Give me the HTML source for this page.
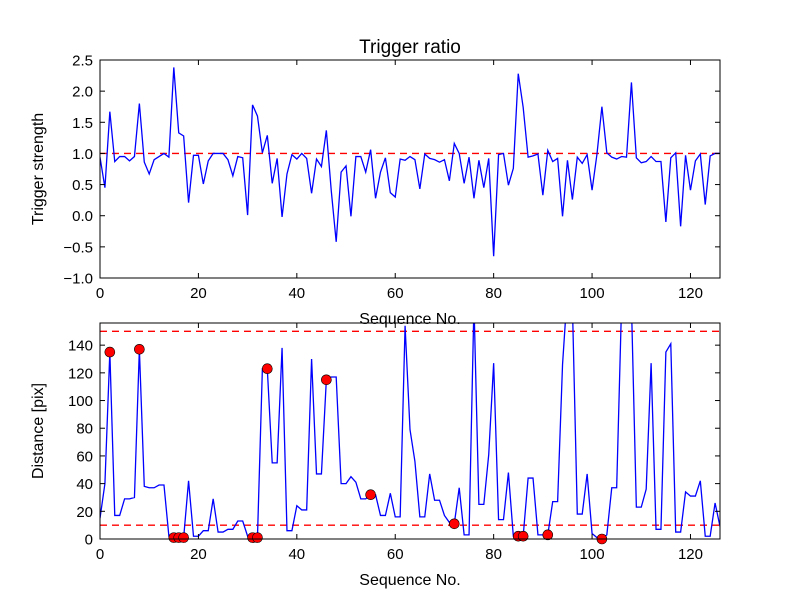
<!DOCTYPE html>
<html><head><meta charset="utf-8"><style>
body{margin:0;background:#fff;}
svg{display:block;font-family:"Liberation Sans","DejaVu Sans",sans-serif;}
</style></head><body>
<svg id="chart" width="800" height="600" viewBox="0 0 800 600">
<rect width="800" height="600" fill="#fff"/>
<defs>
<clipPath id="c1"><rect x="100" y="60" width="620" height="218"/></clipPath>
<clipPath id="c2"><rect x="100" y="323" width="620" height="216"/></clipPath>
</defs>
<text x="410" y="53" font-size="19" text-anchor="middle">Trigger ratio</text>
<g id="top"></g>
<g id="bot"></g>
</svg>
<script>
const seqTop = [0.94,0.45,1.67,0.87,0.95,0.95,0.88,0.95,1.80,0.86,0.67,0.9,0.95,1.0,0.94,2.38,1.33,1.28,0.21,0.97,0.97,0.51,0.88,1.0,1.0,1.0,0.9,0.64,0.95,0.93,0.01,1.78,1.6,1.01,1.29,0.52,0.92,-0.02,0.67,0.98,0.91,1.0,0.92,0.36,0.91,0.79,1.37,0.4,-0.42,0.7,0.8,-0.01,0.95,0.95,0.7,1.06,0.28,0.7,0.93,0.37,0.3,0.91,0.89,0.95,0.9,0.43,0.99,0.92,0.9,0.86,0.9,0.56,1.16,1.0,0.52,0.94,0.28,0.89,0.45,0.92,-0.65,0.98,1.0,0.49,0.76,2.28,1.74,0.94,0.96,0.99,0.33,1.05,0.87,0.92,-0.01,0.89,0.26,0.94,0.84,0.98,0.41,0.99,1.75,1.01,0.94,0.91,0.95,0.94,2.14,0.93,0.85,0.87,0.95,0.87,0.87,-0.1,0.93,1.01,-0.17,0.97,0.41,0.88,0.99,0.18,0.96,1.0,1.0];
const distBot = [15,40,135,17,17,29,29,30,137,38,37,37,39,39,2,1,1,1,42,2,2,6,6,29,5,5,7,7,13,13,2,1,1,123,123,55,55,138,6,6,24,21,21,130,47,47,115,117,117,40,40,45,41,29,29,32,32,17,17,33,16,16,154,79,56,16,16,47,28,28,17,12,11,37,3,3,170,25,25,61,127,14,14,48,2,2,2,44,44,3,3,3,27,27,126,180,170,18,18,47,4,1,0,3,37,37,170,200,170,23,23,36,127,7,7,135,141,5,5,34,31,31,42,2,2,26,9];
const markIdx = [2,8,15,16,17,31,32,34,46,55,72,85,86,91,102];
const xTicks = [0,20,40,60,80,100,120];
const yTicksTop = [-1.0,-0.5,0.0,0.5,1.0,1.5,2.0,2.5];
const yTicksBot = [0,20,40,60,80,100,120,140];
const thrTop = [1.0];
const thrBot = [10,150];

const NS="http://www.w3.org/2000/svg";
function mk(parent,tag,attrs){const e=document.createElementNS(NS,tag);for(const k in attrs)e.setAttribute(k,attrs[k]);parent.appendChild(e);return e;}

function panel(g,box,xmax,ymin,ymax,data,yTicks,yFmt,thr,ylabel,clip,markers,nm){
  const sx=v=>box.x+(v/xmax)*box.w;
  const sy=v=>box.y+box.h-(v-ymin)/(ymax-ymin)*box.h;
  const pg=mk(g,'g',{'clip-path':'url(#'+clip+')'});
  thr.forEach(t=>{const l=mk(pg,'line',{x1:box.x,x2:box.x+box.w,y1:sy(t),y2:sy(t),stroke:'#ff0000','stroke-width':1.4,'stroke-dasharray':'7,5'});
    
    });
  const pts=data.map((v,i)=>sx(i).toFixed(2)+','+sy(v).toFixed(2)).join(' ');
  const pl=mk(pg,'polyline',{points:pts,fill:'none',stroke:'#0000ff','stroke-width':1.3});
  
  
  if(markers){markers.forEach(i=>{const c=mk(g,'circle',{cx:sx(i),cy:sy(data[i]),r:5,fill:'#ff0000',stroke:'#000','stroke-width':0.6});
    
    });}
  const fr=mk(g,'rect',{x:box.x,y:box.y,width:box.w,height:box.h,fill:'none',stroke:'#000','stroke-width':1});
  
  
  xTicks.forEach(t=>{const x=sx(t);
    mk(g,'line',{x1:x,x2:x,y1:box.y+box.h,y2:box.y+box.h-5,stroke:'#000'});
    mk(g,'line',{x1:x,x2:x,y1:box.y,y2:box.y+5,stroke:'#000'});
    const tx=mk(g,'text',{x:x,y:box.y+box.h+20,'font-size':15,'text-anchor':'middle'});tx.textContent=t;
    
    });
  yTicks.forEach(t=>{const y=sy(t);
    mk(g,'line',{x1:box.x,x2:box.x+5,y1:y,y2:y,stroke:'#000'});
    mk(g,'line',{x1:box.x+box.w,x2:box.x+box.w-5,y1:y,y2:y,stroke:'#000'});
    const tx=mk(g,'text',{x:box.x-7,y:y+5.5,'font-size':15,'text-anchor':'end'});tx.textContent=yFmt(t);
    
    });
  const xl=mk(g,'text',{x:box.x+box.w/2,y:box.y+box.h+46,'font-size':16,'text-anchor':'middle'});xl.textContent='Sequence No.';
  
  
  const cy=box.y+box.h/2;
  const yl=mk(g,'text',{x:0,y:0,'font-size':16,'text-anchor':'middle',transform:'translate('+(box.x-57)+','+cy+') rotate(-90)'});yl.textContent=ylabel;
  
  
}
panel(document.getElementById('top'),{x:100,y:60,w:620,h:218},126,-1.0,2.5,seqTop,yTicksTop,t=>(t<0?'\u2212':'')+Math.abs(t).toFixed(1),thrTop,'Trigger strength','c1',null,'strength');
panel(document.getElementById('bot'),{x:100,y:323,w:620,h:216},126,0,156,distBot,yTicksBot,t=>String(t),thrBot,'Distance [pix]','c2',markIdx,'distance');
</script>
</body></html>
